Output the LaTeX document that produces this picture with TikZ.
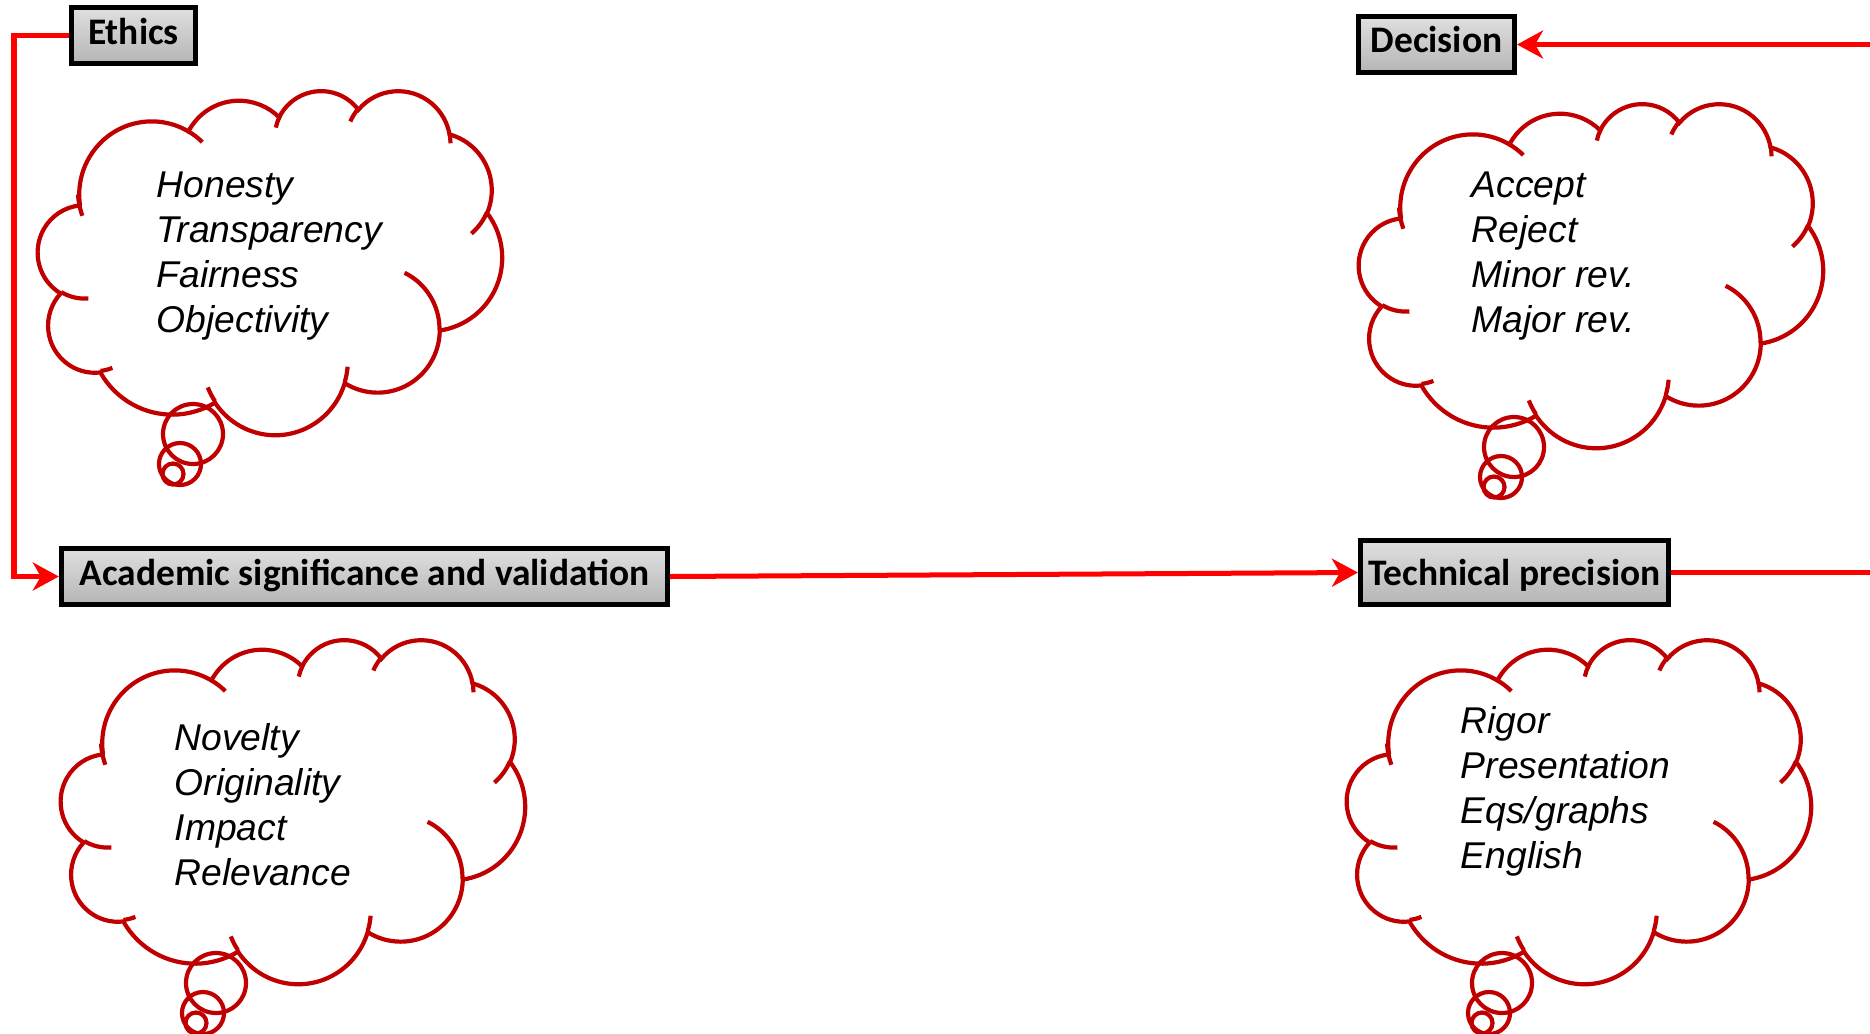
\documentclass[tikz,border=0pt]{standalone}
\usepackage{fontspec}
\setmainfont{Liberation Sans}
\newfontfamily\boxfont{Carlito}
\usetikzlibrary{arrows.meta}
\definecolor{cloudred}{HTML}{C00000}
\definecolor{linered}{HTML}{FF0000}
\tikzset{
  carc/.style n args={4}{insert path={
    arc[start angle={atan2((#1)*sin(#3),(#2)*cos(#3))},
        delta angle={mod(atan2((#1)*sin(#3+#4),(#2)*cos(#3+#4))-atan2((#1)*sin(#3),(#2)*cos(#3))+720,360)},
        x radius=#1, y radius=#2]}},
  cloudline/.style={draw=cloudred, line width=0.042cm},
  lbl/.style={draw=black, line width=0.055cm, inner sep=0pt,
    font=\boxfont\bfseries\fontsize{10.65}{12}\selectfont,
    text height=0.25cm, text depth=0.07cm,
    top color=gray!25, middle color=gray!2, bottom color=gray!58},
  conn/.style={draw=linered, line width=0.05cm},
  tip/.style={-{Stealth[length=0.26cm,width=0.28cm,inset=0.08cm]}},
  ctext/.style={font=\itshape\fontsize{10.6}{12.7}\selectfont, anchor=base west, inner sep=0pt}
}
\newcommand{\thoughtcloud}[2]{%
  \begin{scope}[shift={(#1,#2)}, xscale=464/432, yscale=344/432]
    \draw[cloudline] (39.00,143.70)
      [carc={67.53}{91.90}{-190.4875}{123.7805}]
      [carc={53.33}{72.67}{-144.1024}{89.9452}]
      [carc={43.65}{59.45}{-145.8079}{99.7230}]
      [carc={48.57}{65.95}{-130.9861}{117.2417}]
      [carc={53.33}{72.73}{-78.7089}{109.0269}]
      [carc={67.75}{92.20}{-46.2673}{130.2690}]
      [carc={57.85}{78.67}{0.6250}{114.0333}]
      [carc={67.52}{92.15}{22.4516}{115.1726}]
      [carc={77.20}{105.43}{66.2426}{75.7110}]
      [carc={43.60}{59.18}{-274.9421}{146.7356}]
      [carc={43.45}{59.45}{-246.8285}{152.5189}] -- cycle;
    \draw[cloudline]
      (46.93,261.77) [carc={43.45}{59.45}{86.7420}{26.4295}]
      (69.28,348.99) [carc={43.60}{59.18}{73.6105}{11.4475}]
      (164.78,390.90) [carc={67.52}{92.15}{137.6242}{14.0811}]
      (288.27,347.51) [carc={67.52}{92.15}{6.4533}{15.9984}]
      (341.29,229.54) [carc={57.85}{78.67}{-70.2924}{70.9174}]
      (417.98,153.54) [carc={53.33}{72.73}{30.3180}{27.7515}]
      (383.24,54.26) [carc={48.57}{65.95}{-13.7443}{14.8589}]
      (290.78,39.52) [carc={48.57}{65.95}{-149.1815}{18.1954}]
      (221.41,47.20) [carc={43.65}{59.45}{-163.4943}{17.6864}]
      (140.00,51.92) [carc={67.53}{91.90}{-66.7070}{12.3194}]
      (41.27,157.89) [carc={67.53}{91.90}{153.5847}{22.2383}];
  \end{scope}
  \draw[cloudline] ({#1+155},{#2+344}) circle[radius=30];
  \draw[cloudline] ({#1+142},{#2+374}) circle[radius=21];
  \draw[cloudline] ({#1+135},{#2+384}) circle[radius=10.5];
}
\begin{document}
\begin{tikzpicture}[x=0.01cm,y=-0.01cm]
\useasboundingbox (0,0) rectangle (1870,1033);
\fill[white] (0,0) rectangle (1870,1033);

% clouds
\thoughtcloud{38}{90}
\thoughtcloud{1359}{103}
\thoughtcloud{61}{639}
\thoughtcloud{1347}{639}

% cloud texts
\foreach \t [count=\i] in {Honesty,Transparency,Fairness,Objectivity}
  \node[ctext] (eth\i) at (156,{197+45*(\i-1)}) {\t};
\foreach \t [count=\i] in {Accept,Reject,Minor rev.,Major rev.}
  \node[ctext] (dec\i) at (1471,{197+45*(\i-1)}) {\t};
\foreach \t [count=\i] in {Novelty,Originality,Impact,Relevance}
  \node[ctext] (aca\i) at (174,{750+45*(\i-1)}) {\t};
\foreach \t [count=\i] in {Rigor,Presentation,Eqs/graphs,English}
  \node[ctext] (tec\i) at (1460,{733+45*(\i-1)}) {\t};

% boxes
\node[lbl, minimum width=1.235cm, minimum height=0.555cm] (ethics) at (133.5,35.5) {Ethics};
\node[lbl, minimum width=1.555cm, minimum height=0.555cm, text depth=0.1cm] (decision) at (1436.5,44.5) {Decision};
\node[lbl, minimum width=6.055cm, minimum height=0.555cm] (acad) at (364.5,576.5) {Academic significance and validation};
\node[lbl, minimum width=3.075cm, minimum height=0.635cm, text depth=0cm] (tech) at (1514.5,572.5) {Technical precision};

% connectors
\coordinate (bend) at (14,0);
\coordinate (edgeR) at (1875,0);
\draw[conn,tip] (ethics.west) -- (ethics.west -| bend) |- (acad.west);
\draw[conn,tip] (acad.east) -- (tech.west);
\draw[conn] (tech.east) -- (tech.east -| edgeR);
\draw[conn,tip] (decision.east -| edgeR) -- (decision.east);
\end{tikzpicture}
\end{document}
